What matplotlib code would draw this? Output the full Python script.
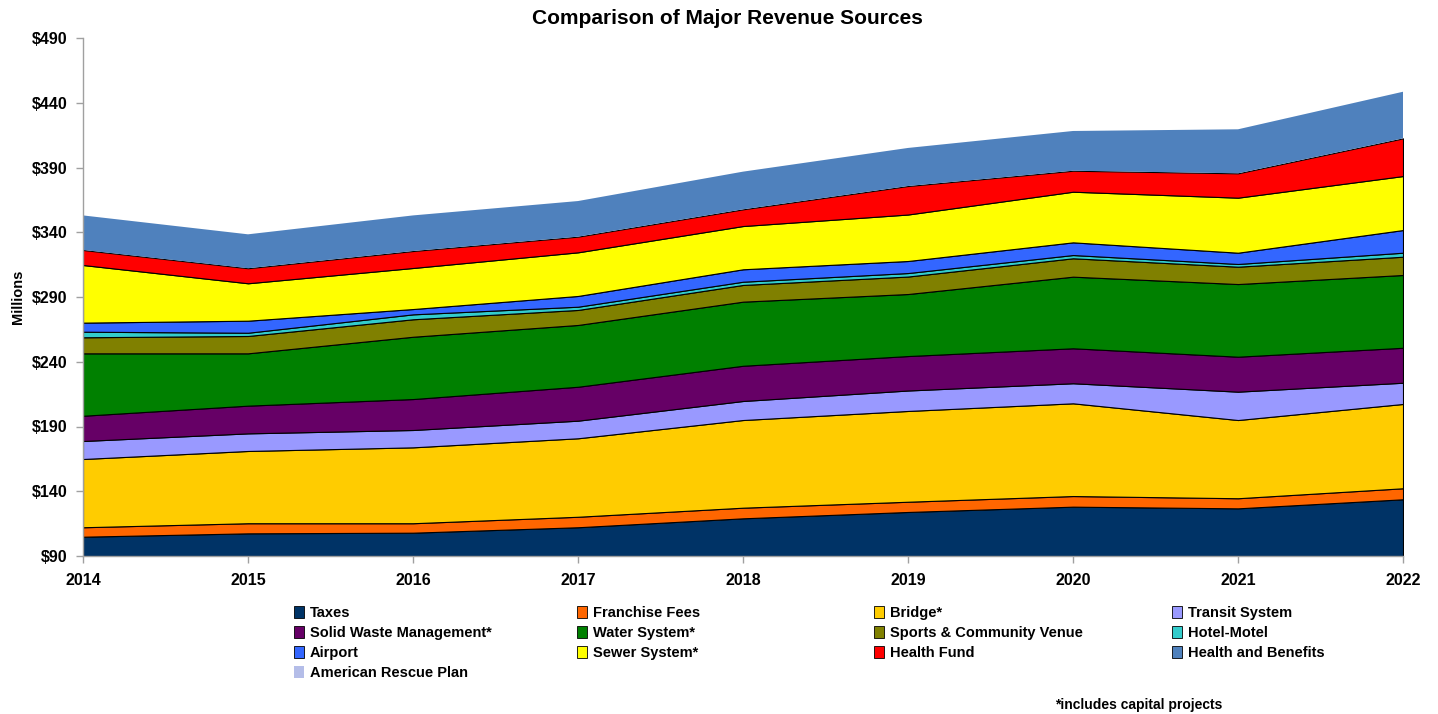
import matplotlib
matplotlib.use("Agg")
import matplotlib.pyplot as plt
from matplotlib.patches import Patch

plt.rcParams['font.family'] = ['Liberation Sans', 'DejaVu Sans']

years = [2014, 2015, 2016, 2017, 2018, 2019, 2020, 2021, 2022]

series_names = ["Taxes", "Franchise Fees", "Bridge*", "Transit System",
                "Solid Waste Management*", "Water System*", "Sports & Community Venue",
                "Hotel-Motel", "Airport", "Sewer System*", "Health Fund",
                "Health and Benefits", "American Rescue Plan"]

# cumulative tops (millions)
taxes_top    = [104.9, 107.5, 108.0, 112.2, 119.1, 124.0, 128.1, 126.8, 133.8]
franchise_top= [112.2, 115.3, 115.3, 120.3, 127.3, 131.9, 136.3, 134.6, 142.3]
bridge_top   = [164.9, 171.1, 173.9, 180.9, 195.0, 202.0, 207.9, 195.0, 207.4]
transit_top  = [178.8, 184.7, 187.3, 194.5, 209.7, 217.8, 223.4, 216.9, 223.8]
swm_top      = [198.3, 206.1, 211.2, 220.7, 236.9, 244.4, 250.4, 243.9, 250.8]
water_top    = [246.5, 246.5, 259.3, 268.4, 286.4, 292.3, 305.7, 300.0, 307.0]
sports_top   = [258.9, 259.9, 272.8, 280.0, 299.3, 305.8, 319.9, 313.4, 321.1]
hotel_top    = [263.2, 262.4, 276.6, 282.5, 301.8, 308.5, 322.4, 315.5, 324.2]
airport_top  = [270.2, 271.7, 280.7, 290.8, 311.4, 317.8, 332.2, 324.2, 341.7]
sewer_top    = [314.7, 300.6, 312.4, 324.5, 344.8, 353.7, 371.3, 366.7, 383.4]
hfund_top    = [326.3, 312.2, 325.5, 336.6, 357.7, 375.7, 387.5, 385.5, 412.5]
hb_top       = [353.0, 338.4, 353.0, 364.1, 386.8, 405.1, 418.2, 419.5, 448.5]
arp_amount   = [0, 0, 0, 0, 0, 0, 0, 0, 0]

base = 90
tops = [taxes_top, franchise_top, bridge_top, transit_top, swm_top, water_top,
        sports_top, hotel_top, airport_top, sewer_top, hfund_top, hb_top]

colors = ["#003366", "#ff6600", "#ffcc00", "#9999ff", "#660066", "#008000",
          "#808000", "#33cccc", "#3366ff", "#ffff00", "#ff0000", "#4f81bd", "#b4bde8"]

# convert cumulative tops into layer amounts
layers = []
prev = [base] * len(years)
for t in tops:
    layers.append([a - b for a, b in zip(t, prev)])
    prev = t
layers.append(arp_amount)

fig = plt.figure(figsize=(14.38, 7.14), dpi=100)
ax = fig.add_axes([83 / 1438, 1 - 556 / 714, (1403 - 83) / 1438, (556 - 38) / 714])

polys = ax.stackplot(years, [base] * len(years), *layers,
                     colors=["none"] + colors)
polys[0].set_visible(False)
for i, p in enumerate(polys[1:]):
    if series_names[i] in ("Health and Benefits", "American Rescue Plan"):
        p.set_edgecolor("none")
    else:
        p.set_edgecolor("black")
        p.set_linewidth(0.8)

ax.set_xlim(2014, 2022)
ax.set_ylim(90, 490)
yticks = list(range(90, 491, 50))
ax.set_yticks(yticks)
ax.set_yticklabels([f"${v}" for v in yticks], fontsize=11.5, fontweight="bold")
ax.set_xticks(years)
ax.set_xticklabels([str(y) for y in years], fontsize=11.5, fontweight="bold")
for s in ("top", "right"):
    ax.spines[s].set_visible(False)
for s in ("left", "bottom"):
    ax.spines[s].set_color("#a0a0a0")
    ax.spines[s].set_linewidth(1.0)
ax.tick_params(axis="both", color="#a0a0a0", length=5, width=1)
ax.tick_params(axis="x", pad=7)
ax.tick_params(axis="y", pad=6)
ax.set_ylabel("Millions", fontsize=10.5, fontweight="bold", labelpad=5)

fig.text(727 / 1438, 1 - 18 / 714, "Comparison of Major Revenue Sources",
         ha="center", va="center", fontsize=15, fontweight="bold")

# legend: 4 columns placed at fixed positions
col_items = [[0, 4, 8, 12], [1, 5, 9], [2, 6, 10], [3, 7, 11]]
col_x = [294, 577, 874, 1172]
for cx, items in zip(col_x, col_items):
    handles = [Patch(facecolor=colors[i],
                     edgecolor="black" if i != 12 else "none",
                     linewidth=0.6, label=series_names[i]) for i in items]
    fig.legend(handles=handles, loc="upper left",
               bbox_to_anchor=(cx / 1438, 1 - 606 / 714),
               frameon=False, ncol=1, handlelength=0.7, handleheight=0.9,
               handletextpad=0.4, labelspacing=0.4, borderpad=0, borderaxespad=0,
               prop={"weight": "bold", "size": 10.5})

fig.text(1055 / 1438, 1 - 705 / 714, "*includes capital projects",
         ha="left", va="center", fontsize=10, fontweight="bold")

fig.savefig("out.png", dpi=100)
